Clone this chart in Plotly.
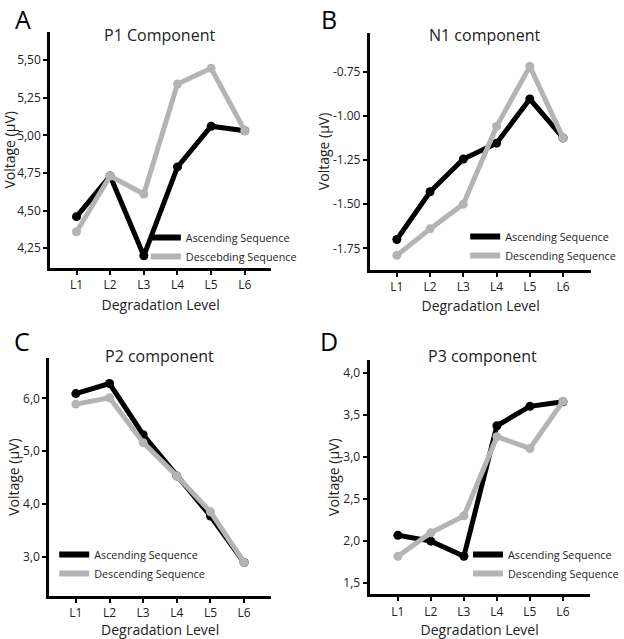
from __future__ import annotations

from dataclasses import dataclass
from typing import Sequence

import plotly.graph_objects as go

WIDTH = 624
HEIGHT = 639

FONT = "Open Sans, Noto Sans, sans-serif"
BLACK = "#000000"
GREY = "#b4b4b4"
TEXT = "#222222"

levels = ["L1", "L2", "L3", "L4", "L5", "L6"]
level_pos = [1, 2, 3, 4, 5, 6]

# P1 component
p1_asc = [4.46, 4.73, 4.20, 4.79, 5.06, 5.03]
p1_desc = [4.36, 4.73, 4.61, 5.34, 5.445, 5.03]
p1_ticks = [4.25, 4.50, 4.75, 5.00, 5.25, 5.50]
p1_ticktext = ["4,25", "4,50", "4,75", "5,00", "5,25", "5,50"]

# N1 component
n1_asc = [-1.70, -1.43, -1.245, -1.155, -0.905, -1.125]
n1_desc = [-1.79, -1.64, -1.50, -1.06, -0.72, -1.125]
n1_ticks = [-1.75, -1.50, -1.25, -1.00, -0.75]
n1_ticktext = ["-1.75", "-1.50", "-1.25", "-1.00", "-0.75"]

# P2 component
p2_asc = [6.09, 6.28, 5.31, 4.53, 3.77, 2.89]
p2_desc = [5.89, 6.01, 5.16, 4.53, 3.85, 2.89]
p2_ticks = [3.0, 4.0, 5.0, 6.0]
p2_ticktext = ["3,0", "4,0", "5,0", "6,0"]

# P3 component
p3_asc = [2.07, 2.00, 1.82, 3.37, 3.60, 3.655]
p3_desc = [1.82, 2.10, 2.30, 3.24, 3.10, 3.66]
p3_ticks = [1.5, 2.0, 2.5, 3.0, 3.5, 4.0]
p3_ticktext = ["1,5", "2,0", "2,5", "3,0", "3,5", "4,0"]


@dataclass
class Panel:
    letter: str
    title: str
    asc: Sequence[float]
    desc: Sequence[float]
    desc_name: str
    ticks: Sequence[float]
    ticktext: Sequence[str]
    yrange: Sequence[float]
    xrange: Sequence[float]
    box: Sequence[float]  # left, right, top, bottom in page pixels
    title_xy: Sequence[float]
    letter_xy: Sequence[float]  # centre x, top y
    legend_xy: Sequence[float]


def px(x: float) -> float:
    return x / WIDTH


def py(y: float) -> float:
    return 1 - y / HEIGHT


panels = [
    Panel("A", "P1 Component", p1_asc, p1_desc, "Descebding Sequence",
          p1_ticks, p1_ticktext, [4.119, 5.688], [0.22, 6.78],
          [51, 275, 31.7, 268], [162, 35], [23, 0], [148, 247]),
    Panel("B", "N1 component", n1_asc, n1_desc, "Descending Sequence",
          n1_ticks, n1_ticktext, [-1.87, -0.533], [0.19, 6.85],
          [375.3, 600, 33.3, 269.5], [492, 35], [334, 0], [472, 246]),
    Panel("C", "P2 component", p2_asc, p2_desc, "Descending Sequence",
          p2_ticks, p2_ticktext, [2.255, 6.758], [0.21, 6.8],
          [50, 275, 358.3, 596], [162, 356], [22.5, 322], [55, 564]),
    Panel("D", "P3 component", p3_asc, p3_desc, "Descending Sequence",
          p3_ticks, p3_ticktext, [1.369, 4.15], [0.143, 6.81],
          [375, 598.3, 360, 594.3], [490, 356], [334, 322], [475, 564]),
]

fig = go.Figure()
annotations = []
layout = {}

for i, p in enumerate(panels, start=1):
    sfx = "" if i == 1 else str(i)
    leg = "legend" if i == 1 else f"legend{i}"
    left, right, top, bottom = p.box

    for name, values, color in [("Ascending Sequence", p.asc, BLACK),
                                 (p.desc_name, p.desc, GREY)]:
        fig.add_trace(go.Scatter(
            x=level_pos, y=values, name=name, mode="lines+markers",
            line=dict(color=color, width=5),
            marker=dict(color=color, size=9),
            xaxis=f"x{sfx}", yaxis=f"y{sfx}", showlegend=False,
        ))
        # legend key is a plain thick bar, without the marker
        fig.add_trace(go.Scatter(
            x=[None], y=[None], name=name, mode="lines",
            line=dict(color=color, width=6),
            xaxis=f"x{sfx}", yaxis=f"y{sfx}", legend=leg,
        ))

    axis_common = dict(
        showline=True, linewidth=3, linecolor=BLACK, showgrid=False, zeroline=False,
        ticks="outside", ticklen=4, tickwidth=2, tickcolor=BLACK,
        tickfont=dict(family=FONT, size=12, color=TEXT),
    )
    layout[f"xaxis{sfx}"] = dict(
        axis_common, domain=[px(left), px(right)], range=p.xrange,
        tickvals=level_pos, ticktext=levels, anchor=f"y{sfx}",
        title=dict(text="Degradation Level", font=dict(family=FONT, size=14, color=TEXT),
                   standoff=8),
    )
    layout[f"yaxis{sfx}"] = dict(
        axis_common, domain=[py(bottom), py(top)], range=p.yrange,
        tickvals=p.ticks, ticktext=p.ticktext, anchor=f"x{sfx}",
        title=dict(text="Voltage (\u00b5V)", font=dict(family=FONT, size=14, color=TEXT),
                   standoff=0),
    )
    layout[leg] = dict(
        x=px(p.legend_xy[0]), y=py(p.legend_xy[1]), xanchor="left", yanchor="middle",
        bgcolor="rgba(0,0,0,0)", itemwidth=30, tracegroupgap=0,
        font=dict(family=FONT, size=10.8, color=TEXT),
    )
    annotations.append(dict(
        text=p.title, x=px(p.title_xy[0]), y=py(p.title_xy[1]), xref="paper", yref="paper",
        xanchor="center", yanchor="middle", showarrow=False,
        font=dict(family=FONT, size=16, color=TEXT),
    ))
    annotations.append(dict(
        text=p.letter, x=px(p.letter_xy[0]), y=py(p.letter_xy[1]), xref="paper", yref="paper",
        xanchor="center", yanchor="top", showarrow=False,
        font=dict(family=FONT, size=25, color=BLACK),
    ))

fig.update_layout(
    width=WIDTH, height=HEIGHT,
    margin=dict(l=0, r=0, t=0, b=0),
    paper_bgcolor="white", plot_bgcolor="white",
    annotations=annotations,
    **layout,
)

# drop the browser's default body margin so the figure fills the window
fig.write_html(
    "out.html",
    config={"displayModeBar": False},
    post_script="document.body.style.margin = '0';",
)
